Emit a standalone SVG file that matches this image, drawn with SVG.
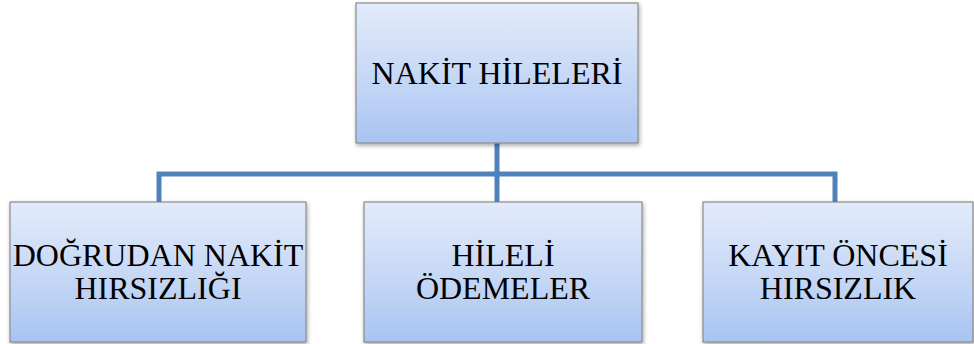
<svg xmlns="http://www.w3.org/2000/svg" width="974" height="344" viewBox="0 0 974 344">
<defs>
<linearGradient id="g" x1="0" y1="0" x2="0" y2="1">
<stop offset="0" stop-color="#e2ebfa"/>
<stop offset="0.5" stop-color="#c8d9f6"/>
<stop offset="1" stop-color="#a8c4f2"/>
</linearGradient>
<filter id="sh" x="-10%" y="-10%" width="120%" height="130%">
<feDropShadow dx="1" dy="2" stdDeviation="2" flood-color="#000" flood-opacity="0.35"/>
</filter>
</defs>
<style>
.box{fill:url(#g);stroke:#8a8a8a;stroke-width:1.2;filter:url(#sh)}
.t{font-family:"Liberation Serif","Times New Roman",serif;font-size:32px;fill:#000;text-anchor:middle}
.c{fill:none;stroke:#4f81bd;stroke-width:5}
</style>
<g id="connectors">
<path class="c" d="M497,143 V202"/>
<path class="c" d="M159,202 V174 H835 V202"/>
</g>
<g id="n0">
<rect class="box" x="356" y="3" width="282" height="140"/>
<text class="t" x="497" y="84">NAKİT HİLELERİ</text>
</g>
<g id="n1">
<rect class="box" x="10" y="202" width="296" height="140"/>
<text class="t" x="158" y="266">DOĞRUDAN NAKİT</text>
<text class="t" x="158" y="299">HIRSIZLIĞI</text>
</g>
<g id="n2">
<rect class="box" x="364" y="202" width="278" height="140"/>
<text class="t" x="503" y="266">HİLELİ</text>
<text class="t" x="503" y="299">ÖDEMELER</text>
</g>
<g id="n3">
<rect class="box" x="703" y="202" width="270" height="140"/>
<text class="t" x="838" y="266">KAYIT ÖNCESİ</text>
<text class="t" x="838" y="299">HIRSIZLIK</text>
</g>
</svg>
